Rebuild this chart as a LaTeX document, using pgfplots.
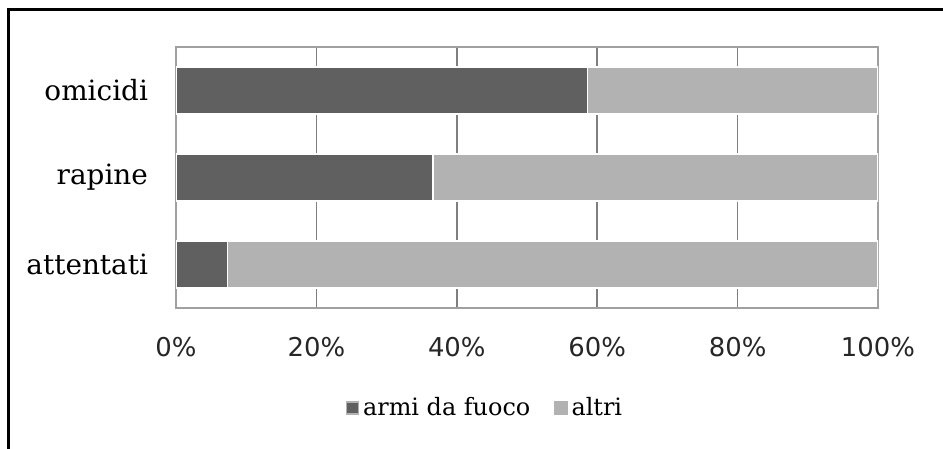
\documentclass[border=0pt]{standalone}
\usepackage{fontspec}
\setmainfont{DejaVu Serif}
\newfontfamily\tickfont{DejaVu Sans}
\usepackage{pgfplots}
\pgfplotsset{compat=1.18}
\definecolor{darkbar}{HTML}{606060}
\definecolor{lightbar}{HTML}{B2B2B2}
\definecolor{gridc}{HTML}{7F7F7F}
\definecolor{boxc}{HTML}{A0A0A0}
\begin{document}
\begin{tikzpicture}[x=1bp,y=1bp]
\useasboundingbox (0,0) rectangle (471.5,224);
\begin{scope}
\clip (0,0) rectangle (471.5,224);
\draw[line width=1.5bp] (4,-20) -- (4,219) -- (490,219);
\end{scope}
\begin{axis}[
  at={(88bp,70bp)}, anchor=south west,
  scale only axis, width=351bp, height=130.5bp,
  xbar stacked, bar width=23.5bp,
  xmin=0, xmax=100, ymin=-0.5, ymax=2.5,
  ytick={0,1,2}, yticklabels={attentati,rapine,omicidi},
  xtick={0,20,40,60,80,100},
  xticklabels={0\%,20\%,40\%,60\%,80\%,100\%},
  major tick length=0pt,
  xmajorgrids,
  grid style={gridc, line width=0.8bp},
  axis line style={boxc, line width=0.8bp},
  yticklabel style={font=\fontsize{14}{16}\selectfont, xshift=-10.5bp},
  xticklabel style={font=\tickfont\fontsize{13}{15}\selectfont, yshift=-11bp, text=black!85},
  legend style={draw=none, fill=none, at={(0.4416,-0.383)}, anchor=center,
    legend columns=2, font=\fontsize{12}{14}\selectfont,
    /tikz/every even column/.append style={column sep=10bp}},
  legend image code/.code={\draw[#1, draw=gray!60, line width=0.6bp] (0bp,-3bp) rectangle (6bp,3bp);},
]
\addplot[fill=darkbar, draw=white, line width=0.6bp] coordinates {(58.6,2) (36.6,1) (7.3,0)};
\addplot[fill=lightbar, draw=white, line width=0.6bp] coordinates {(41.4,2) (63.4,1) (92.7,0)};
\legend{armi da fuoco, altri}
\end{axis}
\end{tikzpicture}
\end{document}
